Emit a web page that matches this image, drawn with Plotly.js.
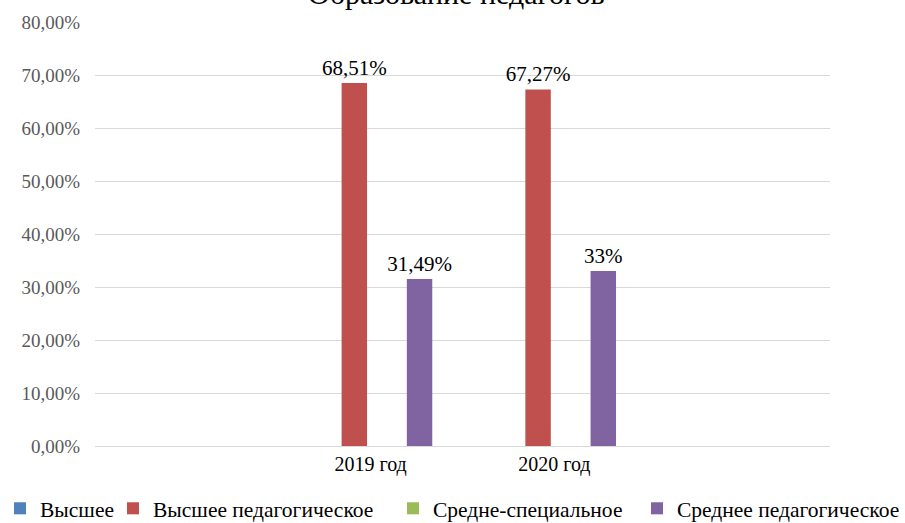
<!DOCTYPE html>
<html>
<head>
<meta charset="utf-8">
<script src="https://cdn.plot.ly/plotly-3.0.1.min.js"></script>
<style>html,body{margin:0;padding:0;background:#fff;}#chart{width:905px;height:523px;}</style>
</head>
<body>
<div id="chart"></div>
<script>
var categories = ["2019 год", "2020 год"];
var seriesNames = ["Высшее", "Высшее педагогическое", "Средне-специальное", "Среднее педагогическое"];
var vysshee = [0, 0];
var vyssheePed = [68.51, 67.27];
var sredneSpec = [0, 0];
var sredneePed = [31.49, 33];
var vyssheePedLabels = ["68,51%", "67,27%"];
var sredneePedLabels = ["31,49%", "33%"];
var yTicks = [0, 10, 20, 30, 40, 50, 60, 70, 80];
var yTickLabels = ["0,00%", "10,00%", "20,00%", "30,00%", "40,00%", "50,00%", "60,00%", "70,00%", "80,00%"];
var titleText = "Образование педагогов";
var colors = ["#4F81BD", "#C0504D", "#9BBB59", "#8064A2"];
var legendIds = ["legend", "legend2", "legend3", "legend4"];
var legendX = [0, 113 / 905, 393 / 905, 637 / 905];

var serif = "Liberation Serif, Times New Roman, serif";
function mk(i, y, labels) {
  var t = {
    type: "bar", name: seriesNames[i], x: categories, y: y,
    marker: {color: colors[i]},
    legend: legendIds[i],
    hoverinfo: "skip"
  };
  if (labels) {
    t.text = labels;
    t.textposition = "outside";
    t.constraintext = "none";
    t.textfont = {family: serif, size: 21, color: "#000"};
    t.cliponaxis = false;
  } else {
    t.textposition = "none";
  }
  return t;
}
var data = [
  mk(0, vysshee, null),
  mk(1, vyssheePed, vyssheePedLabels),
  mk(2, sredneSpec, null),
  mk(3, sredneePed, sredneePedLabels)
];
var layout = {
  width: 905, height: 523,
  margin: {l: 95, r: 75, t: 22, b: 77},
  paper_bgcolor: "#fff", plot_bgcolor: "#fff",
  font: {family: serif},
  annotations: [{text: titleText, xref: "paper", yref: "paper", x: 0.4925, y: 1, xanchor: "center", yanchor: "bottom",
                 yshift: 10, showarrow: false, font: {family: serif, size: 30, color: "#000"}}],
  barmode: "group", bargap: 0.29, bargroupgap: 0.22,
  showlegend: true,
  xaxis: {type: "category", range: [-1.5, 2.5], showgrid: false, showline: true, linecolor: "#D9D9D9",
          linewidth: 1, ticks: "", tickfont: {family: serif, size: 20, color: "#000"}, zeroline: false, tickangle: 0},
  yaxis: {range: [0, 80], tickvals: yTicks, ticktext: yTickLabels, showgrid: true, gridcolor: "#D9D9D9",
          gridwidth: 1, zeroline: false, showline: false, ticks: "",
          tickfont: {family: serif, size: 19, color: "#595959"}, ticklabelstandoff: 14}
};
legendIds.forEach(function (id, i) {
  layout[id] = {orientation: "h", x: legendX[i], xanchor: "left", xref: "container", yref: "container",
                y: 0.028, yanchor: "middle", bgcolor: "rgba(0,0,0,0)",
                font: {family: serif, size: 21.5, color: "#000"}, itemwidth: 30};
});
Plotly.newPlot("chart", data, layout, {displayModeBar: false, staticPlot: true});
</script>
</body>
</html>
